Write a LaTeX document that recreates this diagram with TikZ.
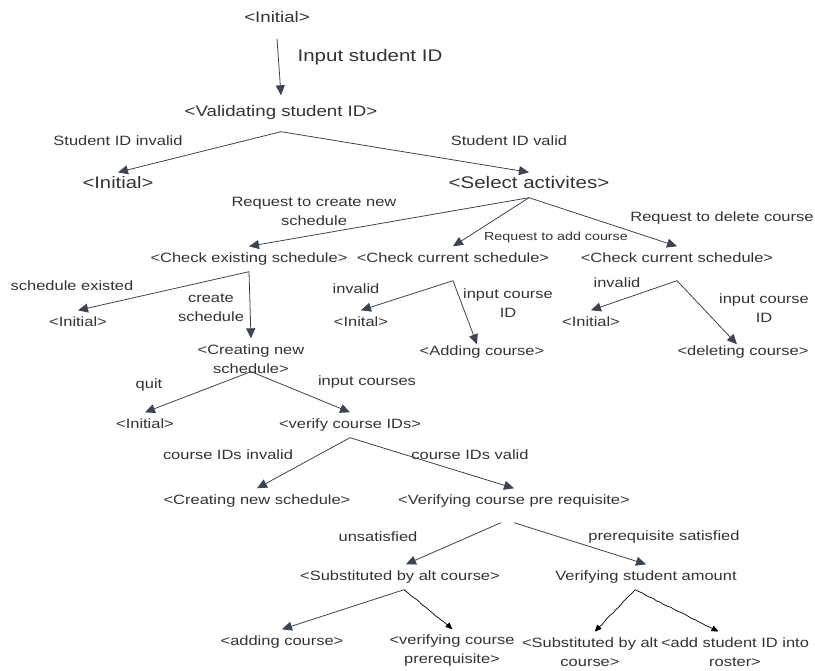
\documentclass[tikz,border=0pt]{standalone}
\usepackage{fontspec}
\setmainfont{Liberation Sans}[FakeStretch=1.22]
\usetikzlibrary{arrows.meta,decorations.pathmorphing}
\definecolor{txtgray}{HTML}{333333}
\definecolor{arrgray}{HTML}{3D4451}
\newcommand{\fsz}[1]{\fontsize{#1}{19}\selectfont}
\tikzset{
	stbase/.style={inner xsep=0pt,inner ysep=6pt,align=center,text=txtgray,font=\fsz{13.5}},
	state/.style={stbase,text height=10pt,text depth=3pt},
	lbl/.style={inner sep=0pt,align=center,text=txtgray,font=\fsz{13.5}},
	arr/.style={draw=arrgray,line width=0.8pt,-{Triangle[length=10pt,width=9pt]}},
	hand/.style={draw=black,line width=0.7pt,-{Triangle[round,length=7pt,width=6pt]},
		decorate,decoration={random steps,segment length=4pt,amplitude=0.4pt}}
}
\begin{document}
\begin{tikzpicture}[x=1pt,y=-1pt]
	\pgfmathsetseed{7}
	\useasboundingbox (0,0) rectangle (815,671);
	%	top
	\node[state,font=\fsz{15.3}] (ini1) at (277,19) {<Initial>};
	\node[lbl,font=\fsz{16.8}] (lInput) at (370,57) {Input student ID};
	\node[state,font=\fsz{15.3}] (val) at (281,113) {<Validating student ID>};
	\node[lbl] (lInv) at (118,141) {Student ID invalid};
	\node[lbl] (lVal) at (509,141) {Student ID valid};
	\node[state,font=\fsz{16.6}] (ini2) at (118,185) {<Initial>};
	\node[state,font=\fsz{16.8}] (sel) at (529,185) {<Select activites>};
	%	activities
	\node[lbl] (lCreate) at (314,211) {Request to create new\\schedule};
	\node[lbl] (lDel) at (722,218) {Request to delete course};
	\node[lbl,font=\fsz{11.7}] (lAdd) at (556,237) {Request to add course};
	\node[state] (chk1) at (249,259) {<Check existing schedule>};
	\node[state] (chk2) at (453,259) {<Check current schedule>};
	\node[state] (chk3) at (677,259) {<Check current schedule>};
	\node[lbl] (lExist) at (72,286) {schedule existed};
	\node[lbl] (lCs) at (211,308) {create\\schedule};
	\node[state] (ini3) at (78,323) {<Initial>};
	\node[lbl] (lInv2) at (356,289) {invalid};
	\node[lbl] (lIc) at (508,303) {input course\\ID};
	\node[state] (ini4) at (361,323) {<Inital>};
	\node[state] (addc) at (482,352) {<Adding course>};
	\node[lbl] (lInv3) at (617,283) {invalid};
	\node[lbl] (lIc2) at (764,308) {input course\\ID};
	\node[state] (ini5) at (591,323) {<Initial>};
	\node[state] (delc) at (743,352) {<deleting course>};
	%	new schedule
	\node[stbase] (crt) at (251,359) {<Creating new\\schedule>};
	\node[lbl] (lQuit) at (149,385) {quit};
	\node[lbl] (lInC) at (367,382) {input courses};
	\node[state] (ini6) at (145,425) {<Initial>};
	\node[state] (ver) at (350,425) {<verify course IDs>};
	\node[lbl] (lCinv) at (228,455) {course IDs invalid};
	\node[lbl] (lCval) at (470,455) {course IDs valid};
	\node[state] (crt2) at (257,501) {<Creating new schedule>};
	\node[state] (vpr) at (514,501) {<Verifying course pre requisite>};
	\node[lbl] (lUns) at (378,537) {unsatisfied};
	\node[lbl] (lSat) at (664,537) {prerequisite satisfied};
	\node[state] (sub) at (400,577) {<Substituted by alt course>};
	\node[state] (vsa) at (646,577) {Verifying student amount};
	\node[state] (addl) at (282,642) {<adding course>};
	\node[stbase] (vcp) at (452,651) {<verifying course\\prerequisite>};
	\node[stbase] (sub2) at (590,652) {<Substituted by alt\\course>};
	\node[stbase] (roster) at (735,652) {<add student ID into\\roster>};
	%	connectors
	\draw[arr] ([yshift=-7pt]ini1.south) -- ([yshift=5pt]val.north);
	\draw[arr] ([yshift=-6pt]val.south) -- (ini2.north);
	\draw[arr] ([yshift=-6pt]val.south) -- (sel.north);
	\draw[arr] (sel.south) -- (chk1.north);
	\draw[arr] (sel.south) -- (chk2.north);
	\draw[arr] (sel.south) -- (chk3.north);
	\draw[arr] (chk1.south) -- (ini3.north);
	\draw[arr] (chk1.south) -- (crt.north);
	\draw[arr] ([yshift=-9pt]chk2.south) -- (ini4.north);
	\draw[arr] ([yshift=-9pt]chk2.south) -- ([xshift=-5pt,yshift=-5pt]addc.north);
	\draw[arr] ([yshift=-9pt]chk3.south) -- (ini5.north);
	\draw[arr] ([yshift=-9pt]chk3.south) -- ([xshift=-6pt,yshift=-5pt]delc.north);
	\draw[arr] ([yshift=8pt]crt.south) -- (ini6.north);
	\draw[arr] ([yshift=8pt]crt.south) -- (ver.north);
	\draw[arr] (ver.south) -- (crt2.north);
	\draw[arr] (ver.south) -- (vpr.north);
	\draw[arr] ([xshift=-13pt,yshift=-9pt]vpr.south) -- ([xshift=6pt]sub.north);
	\draw[arr] ([yshift=-9pt]vpr.south) -- (vsa.north);
	\draw[arr] ([xshift=4pt]sub.south) -- (addl.north);
	\draw[hand] ([xshift=4pt]sub.south) -- (vcp.north);
	\draw[hand] ([xshift=-11pt]vsa.south) -- ([xshift=5pt]sub2.north);
	\draw[hand] ([xshift=-11pt]vsa.south) -- ([xshift=-17pt]roster.north);
\end{tikzpicture}
\end{document}
